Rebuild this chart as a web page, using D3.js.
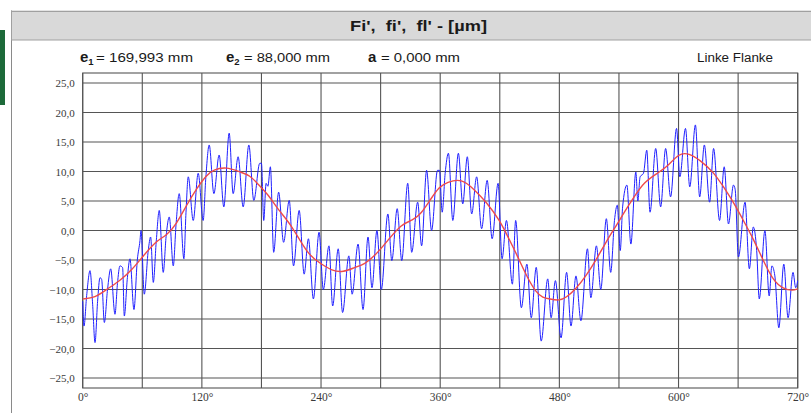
<!DOCTYPE html>
<html><head><meta charset="utf-8">
<script src="https://cdn.jsdelivr.net/npm/d3@7"></script>
<style>
html,body{margin:0;padding:0;background:#fff;}
svg{display:block;}
text{white-space:pre;}
</style></head>
<body>
<svg id="chart" width="811" height="413"></svg>
<script>
// ---- data ----
const titleText = "Fi',  fi',  fl' - [µm]";
const headerLabels = ["e", "e", "a"];
const headerSubs = ["1", "2", ""];
const headerValues = ["= 169,993 mm", "= 88,000 mm", "= 0,000 mm"];
const flankLabel = "Linke Flanke";
const yTicks = [25, 20, 15, 10, 5, 0, -5, -10, -15, -20, -25];
const xTicks = [0, 120, 240, 360, 480, 600, 720];
const xGrid = [0, 60, 120, 180, 240, 300, 360, 420, 480, 540, 600, 660, 720];

const blueAngles = [0,1.3,4,7.4,10,12.4,15,17.4,19.1,21.8,25,28.2,32.5,35,37.5,40.2,41.9,45,47.6,51.6,55,57.7,58.7,62,66,68.4,71.1,74,77.1,81.1,84,87.2,91.2,94,97.2,101.9,104,106.3,111.3,116.3,121.3,124,127.4,132.1,137.4,142.1,147.5,151.5,156.5,161.6,167.3,172.3,178.3,
180,182.3,184.7,186.5,189,192.3,197.3,202.3,208,212.3,218,223,227.3,232.3,238,242.3,248,251.7,257.3,261.7,268,271.3,277.3,282.3,287.3,291.3,296.3,300.7,307.3,311.3,316.7,321.3,327.3,331.3,337.3,341.3,346.3,351.3,357.3,
359.3,362,365,368.3,372.7,378.3,382.7,387.3,391.7,396.7,401.7,407.3,412.3,418.3,422.3,426.7,432.7,436,441.7,447.3,451.7,456.7,461.7,468.3,471.7,476,481.7,487.3,491.7,496.7,501.7,508.3,511.7,517.3,521.7,527.3,531.7,535.5,
538.3,541.3,543.7,548,552,557,559,561.3,564.7,568,571.3,577,582,587,592,598,601.3,607,611.3,617,621.3,626,631.3,635.3,641.3,646,650.3,655.3,657,660.3,667,671.3,675.3,678.7,681.3,687,691.3,694,697,701,706,710.3,715.3,718,720];
const blueValues = [-12,-16.2,-11,-6.8,-12.5,-19,-12,-8,-8.3,-15.6,-10,-6.5,-14.2,-9,-6,-6.3,-14.5,-8,-4.8,-13.4,-5,-1.7,0,-10.8,-3.4,-1.1,-8.8,-2,3.4,-7.1,-1,2.3,-6,1,6.25,-4.8,3,9.1,1.7,9.7,1.7,9,14.5,6.25,12.8,4,16.5,6.25,12.5,4,14.5,5.1,11.4,
11.4,1.7,8,7.5,10.8,-3.7,6.5,-2,5.1,-6,3.4,-7.4,-1.4,-11.6,-0.3,-10,-2.6,-12.8,-3.1,-13.9,-4.3,-10.8,-2.3,-13.4,-1.1,-9.7,0,-10,2.8,-5.1,3.7,-5.1,8,-3.7,4.8,-2.6,10.2,0,10.2,
10.2,3.1,9.7,13.1,1.7,13.1,4.5,12.5,2.8,9.1,0.3,8.5,-1.4,8,-4.8,1.7,-9.1,1.7,-13.1,-5.7,-14.8,-6.25,-18.75,-8.2,-14.8,-8.5,-18.2,-7.1,-16.2,-7.7,-15.3,-3.1,-11.4,-2.6,-10,2,-7.1,1.7,
4.3,-3.4,4,7.7,-2.3,9.9,5,9.1,9.7,13.6,3.1,13.9,4,13.9,5.7,17.3,9.1,17.3,7.4,17.9,5.7,14.5,4.8,13.9,1.7,10.8,1.1,7.7,7,-4.5,4.8,-6.5,0.6,-3.4,-11.6,0,-11.1,-6,-7.7,-16.5,-5.7,-14.8,-7.1,-9.7,-8.5];

const redAngles = [0,12.4,24,37.5,49,61,74.4,84.5,94.5,104.6,114.6,124.7,131.4,144.8,158.2,168.3,177.3,187.3,197.3,210.7,227.3,240.7,250.7,262.3,274,284,294,307.3,320.7,332.3,340.7,350.7,359,366.7,381.7,393.3,406.7,420,428.3,438.3,448.3,456.7,463.3,470,480,486.7,496.7,506.7,516.7,526.7,538.3,545.3,555.3,565.3,578.7,588.7,600.3,610.3,622,635.3,645.3,655.3,665.3,675.3,685.3,695.3,705.3,715.3,720];
const redValues = [-11.6,-11.4,-10,-8.5,-6.8,-4.3,-1.7,-0.85,1.1,4.3,7.1,9.4,10.3,10.8,9.9,9.4,7.7,6,3.4,0.85,-4.3,-5.7,-6.8,-7.1,-6.25,-5.7,-4.3,-1.7,1.1,1.7,2.8,5.4,7.4,8.2,8.8,7.1,4.8,1.7,-1.1,-4.5,-8.2,-10.5,-11.4,-11.6,-11.9,-11.4,-9.9,-7.7,-5.1,-2,1.1,3.1,5.7,8.2,9.7,10.8,13.1,13.1,11.9,9.9,7.4,4.8,1.7,-1.4,-5.1,-8.5,-9.9,-10.2,-9.9];

// ---- drawing ----
const svg = d3.select("#chart");
const W = 811, H = 413;
const plot = {left: 82.7, right: 797.7, top: 73, bottom: 388};
const SANS = "'Liberation Sans', Arial, sans-serif";
const SERIF = "'Liberation Serif', 'Times New Roman', serif";

// frame decorations
svg.append("rect").attr("x", 0).attr("y", 30).attr("width", 5).attr("height", 75).attr("fill", "#1d6a3a");
svg.append("line").attr("x1", 11.5).attr("x2", 11.5).attr("y1", 10).attr("y2", H).attr("stroke", "#8a8a8a").attr("stroke-width", 1);
svg.append("rect").attr("x", 11.5).attr("y", 11.5).attr("width", W).attr("height", 28.5)
  .attr("fill", "#d9d9d9").attr("stroke", "#a0a0a0").attr("stroke-width", 1);
svg.append("line").attr("x1", 11.5).attr("x2", W).attr("y1", 10.5).attr("y2", 10.5).attr("stroke", "#e4e4e4");

svg.append("text").attr("x", 350).attr("y", 31)
  .attr("font-family", SANS).attr("font-weight", "bold")
  .attr("font-size", 15.5).attr("fill", "#1a1a1a")
  .attr("textLength", 137).attr("lengthAdjust", "spacingAndGlyphs").text(titleText);

// header row
const headerX = [80, 226, 368];
const valueX = [96, 244, 381];
const valueW = [97, 86, 79];
headerLabels.forEach((lab, i) => {
  const t = svg.append("text").attr("x", headerX[i]).attr("y", 62)
    .attr("font-family", SANS).attr("fill", "#1a1a1a").attr("font-weight", "bold");
  t.append("tspan").attr("font-size", 15).text(lab);
  if (headerSubs[i]) t.append("tspan").attr("font-size", 9.5).attr("dy", 3).text(headerSubs[i]);
  svg.append("text").attr("x", valueX[i]).attr("y", 62)
    .attr("font-family", SANS).attr("font-size", 12.5).attr("fill", "#1a1a1a")
    .attr("textLength", valueW[i]).attr("lengthAdjust", "spacingAndGlyphs").text(headerValues[i]);
});
svg.append("text").attr("x", 697).attr("y", 62)
  .attr("font-family", SANS).attr("font-size", 12.5).attr("fill", "#1a1a1a")
  .attr("textLength", 76).attr("lengthAdjust", "spacingAndGlyphs").text(flankLabel);

// scales
const x = d3.scaleLinear().domain([0, 720]).range([plot.left, plot.right]);
const y = d3.scaleLinear().domain([-26.7, 26.7]).range([plot.bottom, plot.top]);

// grid
const grid = svg.append("g").attr("stroke", "#555").attr("stroke-width", 1.1);
grid.selectAll("line.h").data(yTicks).join("line").attr("class", "h")
  .attr("x1", plot.left).attr("x2", plot.right).attr("y1", d => y(d)).attr("y2", d => y(d));
grid.selectAll("line.v").data(xGrid).join("line").attr("class", "v")
  .attr("x1", d => x(d)).attr("x2", d => x(d)).attr("y1", plot.top).attr("y2", plot.bottom);
svg.append("rect").attr("x", plot.left).attr("y", plot.top).attr("width", plot.right - plot.left).attr("height", plot.bottom - plot.top)
  .attr("fill", "none").attr("stroke", "#555").attr("stroke-width", 1.1);

// axes labels via d3 axes
const fmtY = d => d3.format(".1f")(d).replace(".", ",").replace("-", "\u2212");
const yAxis = d3.axisLeft(y).tickValues(yTicks).tickSize(0).tickPadding(8).tickFormat(fmtY);
const gy = svg.append("g").attr("transform", `translate(${plot.left},0)`).call(yAxis);
gy.select(".domain").remove();
gy.selectAll("text").attr("font-family", SERIF).attr("font-size", 11).attr("fill", "#3a3a3a");

const xAxis = d3.axisBottom(x).tickValues(xTicks).tickSize(0).tickPadding(5).tickFormat(d => d + "°");
const gx = svg.append("g").attr("transform", `translate(0,${plot.bottom})`).call(xAxis);
gx.select(".domain").remove();
gx.selectAll("text").attr("font-family", SERIF).attr("font-size", 11.5).attr("fill", "#3a3a3a");

// series
const blueData = blueAngles.map((a, i) => [a, blueValues[i]]);
const redData = redAngles.map((a, i) => [a, redValues[i]]);
svg.append("path").attr("fill", "none").attr("stroke", "#2020ff").attr("stroke-width", 1)
  .attr("d", d3.line().x(d => x(d[0])).y(d => y(d[1])).curve(d3.curveMonotoneX)(blueData));
svg.append("path").attr("fill", "none").attr("stroke", "#f04a4a").attr("stroke-width", 1.4)
  .attr("d", d3.line().x(d => x(d[0])).y(d => y(d[1])).curve(d3.curveBasis)(redData));
</script>
</body></html>
